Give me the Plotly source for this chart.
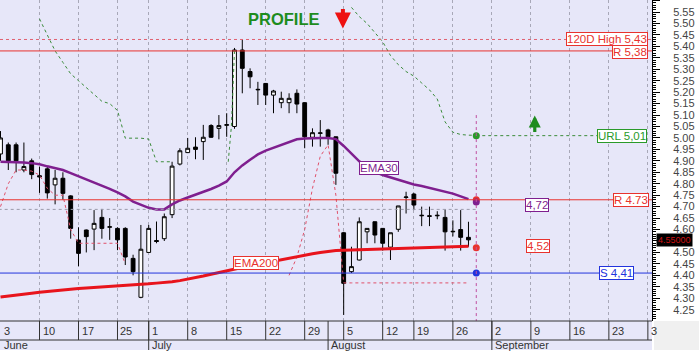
import plotly.graph_objects as go

# ---------------- data (trading-day index 0 = 3 June) ----------------
day_idx = list(range(61))
opens = [4.93, 4.97, 4.97, 4.86, 4.90, 4.835, 4.865, 4.795, 4.824, 4.747,
         4.554, 4.598, 4.602, 4.653, 4.61, 4.605, 4.605, 4.474, 4.304, 4.50,
         4.552, 4.56, 4.665, 4.886, 4.936, 4.96, 4.984, 5.054, 5.042, 5.055,
         5.05, 5.384, 5.29, 5.21, 5.238, 5.187, 5.154, 5.154, 5.195, 5.154,
         5.003, 5.02, 5.035, 5.005, 4.586, 4.416, 4.467, 4.59, 4.634, 4.605,
         4.523, 4.601, 4.74, 4.755, 4.66, 4.66, 4.66, 4.653, 4.59, 4.60, 4.566]
highs = [5.03, 4.98, 4.98, 4.98, 4.91, 4.875, 4.875, 4.86, 4.85, 4.75,
         4.61, 4.60, 4.685, 4.69, 4.65, 4.61, 4.61, 4.49, 4.62, 4.62,
         4.635, 4.67, 4.896, 4.955, 5.00, 5.003, 5.057, 5.06, 5.10, 5.108,
         5.393, 5.43, 5.304, 5.245, 5.24, 5.21, 5.202, 5.195, 5.212, 5.155,
         5.042, 5.078, 5.04, 5.006, 4.59, 4.525, 4.653, 4.605, 4.635, 4.606,
         4.586, 4.703, 4.765, 4.76, 4.70, 4.70, 4.68, 4.688, 4.64, 4.685, 4.634]
lows = [4.90, 4.86, 4.85, 4.85, 4.82, 4.76, 4.735, 4.71, 4.73, 4.56,
        4.44, 4.50, 4.51, 4.56, 4.555, 4.51, 4.445, 4.40, 4.30, 4.50,
        4.54, 4.55, 4.65, 4.88, 4.934, 4.907, 4.904, 5.00, 4.994, 5.005,
        5.04, 5.195, 5.217, 5.144, 5.144, 5.108, 5.13, 5.108, 5.108, 4.955,
        4.962, 4.962, 4.97, 4.795, 4.227, 4.41, 4.465, 4.54, 4.54, 4.508,
        4.467, 4.59, 4.67, 4.685, 4.615, 4.615, 4.645, 4.508, 4.57, 4.508, 4.525]
closes = [5.00, 4.90, 4.90, 4.875, 4.84, 4.83, 4.76, 4.824, 4.758, 4.605,
          4.496, 4.569, 4.627, 4.605, 4.612, 4.555, 4.48, 4.416, 4.514, 4.605,
          4.548, 4.656, 4.877, 4.944, 4.955, 4.95, 5.003, 5.003, 5.054, 5.058,
          5.384, 5.304, 5.267, 5.212, 5.187, 5.205, 5.173, 5.173, 5.148, 5.005,
          5.023, 5.022, 5.005, 4.846, 4.365, 4.438, 4.634, 4.605, 4.576, 4.54,
          4.586, 4.703, 4.742, 4.707, 4.662, 4.658, 4.662, 4.59, 4.592, 4.566, 4.555]

ema30 = [4.896, 4.896, 4.895, 4.893, 4.890, 4.885, 4.876, 4.868, 4.860, 4.846,
         4.833, 4.818, 4.806, 4.792, 4.778, 4.762, 4.745, 4.722, 4.707, 4.695,
         4.688, 4.688, 4.710, 4.727, 4.740, 4.752, 4.763, 4.777, 4.792, 4.810,
         4.850, 4.880, 4.905, 4.928, 4.945, 4.958, 4.970, 4.982, 4.994, 4.998,
         5.000, 5.000, 5.000, 4.995, 4.965, 4.930, 4.898, 4.872, 4.852, 4.838,
         4.828, 4.818, 4.806, 4.797, 4.790, 4.782, 4.775, 4.767, 4.757, 4.745, 4.733]
ema200 = [4.305, 4.310, 4.315, 4.318, 4.322, 4.326, 4.330, 4.334, 4.338, 4.341,
          4.343, 4.345, 4.347, 4.350, 4.352, 4.354, 4.356, 4.358, 4.361, 4.363,
          4.366, 4.368, 4.372, 4.377, 4.383, 4.390, 4.397, 4.405, 4.413, 4.420,
          4.428, 4.435, 4.442, 4.448, 4.455, 4.462, 4.468, 4.474, 4.480, 4.487,
          4.494, 4.500, 4.505, 4.508, 4.510, 4.511, 4.512, 4.513, 4.514, 4.515,
          4.516, 4.517, 4.518, 4.519, 4.520, 4.521, 4.522, 4.523, 4.524, 4.525, 4.527]

N = None
upper_stop = [N, N, N, N, N, 5.52, 5.45, 5.38, 5.33, 5.28,
              5.25, 5.22, 5.19, 5.16, 5.15, 5.12, 4.999, 4.999, 4.999, 4.995,
              4.896, 4.896, 4.896, N, N, N, N, N, N, N,
              N, N, N, N, N, N, N, N, N, N,
              N, N, N, N, N, 5.57, 5.53, 5.50, 5.46, 5.42,
              5.36, 5.32, 5.29, 5.27, 5.24, 5.21, 5.17, 5.07, 5.025, 5.015, 5.012, 5.012]
# stop flip along the July breakout candle
flip_x = [29.2, 29.6, 30.0]
flip_y = [4.896, 5.05, 5.38]
lower_stop = [4.70, 4.80, 4.86, 4.86, 4.855, 4.838, 4.78, 4.75, 4.75, 4.60,
              4.54, 4.54, 4.54, 4.54, 4.54, 4.54, 4.45, N, N, N,
              N, N, N, N, N, N, N, N, N, N,
              N, N, N, N, N, N, N, 4.40, 4.48, 4.60,
              4.78, 4.92, 4.97, 4.75, 4.367, 4.367, 4.367, 4.367, 4.367, 4.367,
              4.367, 4.367, 4.367, 4.367, 4.367, 4.367, 4.367, 4.367, 4.367, 4.367, 4.367]

high_120d = 5.43
res_1 = 5.38
res_2 = 4.73
sup_1 = 4.41
url_level = 5.01
mid_level = 4.688
ema30_last = 4.72
ema200_last = 4.52
last_price = 4.555
proj_idx = 61

week_ticks = [0, 5, 10, 15, 19, 24, 29, 34, 39, 44, 49, 53, 58, 63, 68, 73, 78, 83]
week_labels = ['3', '10', '17', '25', '1', '8', '15', '22', '29', '5', '12', '19', '26',
               '2', '9', '16', '23', '3']
month_ticks = [0, 19, 42, 63]
month_labels = ['June', 'July', 'August', 'September']

y_ticks = [round(4.20 + 0.05 * k, 2) for k in range(29)]
# the 4.55 label is hidden under the last-price tag
y_labels = ['' if abs(v - 4.55) < 1e-9 else '%.2f' % v for v in y_ticks]

# ---------------- styling ----------------
FONT = 'Liberation Sans, Arial, sans-serif'
BG = '#e7e7f9'
RED = '#e8322e'
PURPLE = '#7f1f8f'
BLUE = '#2233dd'
GREEN = '#2a9a2a'
STOPG = '#3c8c3c'

fig = go.Figure()

fig.add_trace(go.Candlestick(
    x=day_idx, open=opens, high=highs, low=lows, close=closes,
    increasing=dict(line=dict(color='black', width=1), fillcolor='white'),
    decreasing=dict(line=dict(color='black', width=1), fillcolor='black'),
    whiskerwidth=0, hoverinfo='skip', showlegend=False))

fig.add_trace(go.Scatter(x=list(range(len(upper_stop))), y=upper_stop, mode='lines',
                         line=dict(color=STOPG, width=1, dash='dot'),
                         connectgaps=False, hoverinfo='skip'))
fig.add_trace(go.Scatter(x=flip_x, y=flip_y, mode='lines',
                         line=dict(color=STOPG, width=1, dash='dot'), hoverinfo='skip'))
fig.add_trace(go.Scatter(x=day_idx, y=lower_stop, mode='lines',
                         line=dict(color='#e0506a', width=1, dash='dot'),
                         connectgaps=False, hoverinfo='skip'))
fig.add_trace(go.Scatter(x=day_idx, y=ema30, mode='lines',
                         line=dict(color=PURPLE, width=2.5), hoverinfo='skip'))
fig.add_trace(go.Scatter(x=day_idx, y=ema200, mode='lines',
                         line=dict(color='#e8141c', width=3), hoverinfo='skip'))

# URL projection dotted line
fig.add_trace(go.Scatter(x=[proj_idx, 76.9], y=[url_level, url_level], mode='lines',
                         line=dict(color=STOPG, width=1, dash='dot'), hoverinfo='skip'))

# projection markers
fig.add_trace(go.Scatter(x=[proj_idx] * 5,
                         y=[url_level, res_2, ema30_last, ema200_last, sup_1],
                         mode='markers',
                         marker=dict(size=7, color=['#2a9a2a', RED, PURPLE, RED, BLUE]),
                         hoverinfo='skip'))

# ---------------- shapes ----------------
shapes = []
shapes.append(dict(type='line', xref='paper', yref='y', x0=0, x1=1, y0=high_120d, y1=high_120d,
                   line=dict(color='#e06070', width=1, dash='dot')))
shapes.append(dict(type='line', xref='paper', yref='y', x0=0, x1=1, y0=res_1, y1=res_1,
                   line=dict(color=RED, width=1)))
shapes.append(dict(type='line', xref='paper', yref='y', x0=0, x1=1, y0=res_2, y1=res_2,
                   line=dict(color=RED, width=1)))
shapes.append(dict(type='line', xref='paper', yref='y', x0=0, x1=1, y0=sup_1, y1=sup_1,
                   line=dict(color=BLUE, width=1)))
shapes.append(dict(type='line', xref='x', yref='y', x0=-1, x1=proj_idx, y0=mid_level, y1=mid_level,
                   line=dict(color='#9a9aaa', width=1, dash='dot')))
shapes.append(dict(type='line', xref='x', yref='y', x0=proj_idx, x1=proj_idx, y0=5.10, y1=4.20,
                   line=dict(color='#c050a0', width=1, dash='dot')))

# date rows
ROW1 = -(340 - 321) / 321.0
ROW2 = -(350 - 321) / 321.0
shapes.append(dict(type='rect', xref='paper', yref='paper', x0=0, x1=1, y0=ROW2, y1=0,
                   fillcolor=BG, line=dict(width=0), layer='below'))
shapes.append(dict(type='rect', xref='paper', yref='paper', x0=1.003, x1=1.08, y0=ROW2, y1=0,
                   fillcolor='#f0f0f0', line=dict(width=0), layer='below'))
shapes.append(dict(type='line', xref='paper', yref='paper', x0=0, x1=1, y0=ROW1, y1=ROW1,
                   line=dict(color='#333333', width=1)))
shapes.append(dict(type='line', xref='paper', yref='paper', x0=0, x1=1, y0=0, y1=0,
                   line=dict(color='#333333', width=1)))
for t in week_ticks[1:]:
    shapes.append(dict(type='line', xref='x', yref='paper', x0=t, x1=t, y0=ROW1, y1=0,
                       line=dict(color='#333333', width=1)))
for t in month_ticks[1:]:
    shapes.append(dict(type='line', xref='x', yref='paper', x0=t, x1=t, y0=ROW2, y1=0,
                       line=dict(color='#333333', width=1)))

# ---------------- annotations ----------------
ann = []


def box(text, x, y, color, xanchor='right', size=11.5):
    return dict(text=text, x=x, y=y, xref='x', yref='y', xanchor=xanchor, yanchor='middle',
                showarrow=False, font=dict(family=FONT, size=size, color=color),
                bgcolor='white', bordercolor=color, borderwidth=1, borderpad=0)


ann.append(box('120D High 5,43', 83.0, high_120d + 0.003, RED))
ann.append(box('R 5,38', 83.0, res_1 - 0.004, RED))
ann.append(box('URL 5,01', 82.9, url_level, GREEN))
ann.append(box('R 4.73', 83.1, res_2, RED))
ann.append(box('S 4,41', 81.2, sup_1, BLUE))
ann.append(box('4,72', 68.8, 4.707, PURPLE, xanchor='center'))
ann.append(box('4,52', 68.9, 4.528, RED, xanchor='center'))
ann.append(box('EMA30', 48.5, 4.869, PURPLE, xanchor='center'))
ann.append(box('EMA200', 32.8, 4.454, RED, xanchor='center'))

ann.append(dict(text='<b>PROFILE</b>', x=36.3, y=5.52, xref='x', yref='y', showarrow=False,
                font=dict(family=FONT, size=16.5, color='#1e8c1e')))
ann.append(dict(text='', x=43.9, y=5.478, xref='x', yref='y', showarrow=True, ax=0, ay=-21,
                arrowcolor='#ee1111', arrowwidth=4, arrowhead=2, arrowsize=0.8))
ann.append(dict(text='', x=68.5, y=5.098, xref='x', yref='y', showarrow=True, ax=0, ay=18,
                arrowcolor='#1e8c1e', arrowwidth=3.2, arrowhead=2, arrowsize=0.75))

ann.append(dict(text='4.55000', x=1.006, y=last_price, xref='paper', yref='y', xanchor='left',
                yanchor='middle', showarrow=False, bgcolor='black',
                font=dict(family=FONT, size=9, color='#cc1111'), borderpad=1))

for t, lab in zip(week_ticks, week_labels):
    ann.append(dict(text=lab, x=t, y=ROW1 / 2, xref='x', yref='paper', xanchor='left',
                    yanchor='middle', xshift=1, showarrow=False,
                    font=dict(family=FONT, size=11, color='#333333')))
for t, lab in zip(month_ticks, month_labels):
    ann.append(dict(text=lab, x=t, y=(ROW1 + ROW2) / 2, xref='x', yref='paper', xanchor='left',
                    yanchor='middle', xshift=1, showarrow=False,
                    font=dict(family=FONT, size=11, color='#333333')))

fig.update_layout(
    width=699, height=352,
    margin=dict(l=0, r=47, t=0, b=31),
    paper_bgcolor='white', plot_bgcolor=BG,
    showlegend=False,
    shapes=shapes, annotations=ann,
    xaxis=dict(range=[-0.064, 83.53], rangeslider=dict(visible=False),
               tickvals=week_ticks, showticklabels=False, ticks='',
               showgrid=True, gridcolor='#a8a8b8', griddash='dot', gridwidth=1,
               zeroline=False, showline=False, fixedrange=True),
    yaxis=dict(range=[4.2006, 5.6024], side='right', tickvals=y_ticks, ticktext=y_labels,
               showgrid=False, zeroline=False, showline=True, linecolor='black',
               ticks='outside', ticklen=7, tickcolor='black',
               minor=dict(dtick=0.01, tick0=4.2, ticks='outside', ticklen=3, tickcolor='black'),
               ticklabelstandoff=11,
               tickfont=dict(family=FONT, size=11, color='#444444'), fixedrange=True),
)

fig.write_html('out.html')
